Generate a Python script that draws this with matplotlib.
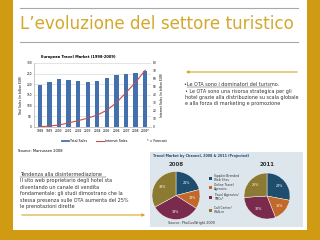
import matplotlib
matplotlib.use("Agg")
import matplotlib.pyplot as plt
from matplotlib.patches import Rectangle, FancyArrowPatch

# data
years = ["1998", "1999", "2000", "2001", "2002", "2003", "2004", "2005", "2006", "2007", "2008", "2009*"]
total_sales = [196, 209, 223, 218, 216, 210, 215, 230, 244, 249, 255, 263]
internet_sales = [0.3, 1.2, 2.5, 5, 8, 11, 15, 21, 30.5, 43, 56, 71]

channels = ["Supplier-Branded\nWeb Sites", "Online Travel\nAgencies", "Travel Agencies/\nTMCs*", "Call Center/\nWalk-in"]
share_2008 = [21, 13, 33, 33]
share_2011 = [28, 16, 30, 26]
channel_colors = ["#1E4D6E", "#C0692A", "#7A2B4D", "#8C7A32"]

right_lines = ["\u2022 Le OTA sono una risorsa strategica per gli",
               "hotel grazie alla distribuzione su scala globale",
               "e alla forza di marketing e promozione"]
left_lines = ["Il sito web proprietario degli hotel sta",
              "diventando un canale di vendita",
              "fondamentale: gli studi dimostrano che la",
              "stessa presenza sulle OTA aumenta del 25%",
              "le prenotazioni dirette"]

W, H = 320, 240
GOLD = "#D09A12"
TITLE = "#D4A82C"


def X(x):
    return x / W


def Y(y):
    return 1 - y / H


def box(x0, y0, w, h):
    return [x0 / W, 1 - (y0 + h) / H, w / W, h / H]


fig = plt.figure(figsize=(3.2, 2.4), dpi=100, facecolor=GOLD)

# white slide
fig.patches.append(Rectangle((X(13), Y(230)), X(294), 230 / H, transform=fig.transFigure,
                             facecolor="white", edgecolor="none", zorder=-3))

# title and rules
for yy in (8, 42):
    fig.add_artist(plt.Line2D([X(20), X(298)], [Y(yy), Y(yy)], color="#A8A8A8", lw=0.8))
fig.text(X(20), Y(24), "L\u2019evoluzione del settore turistico", color=TITLE,
         fontsize=12.1, va="center", ha="left")

# bar chart
ax = fig.add_axes(box(34, 63, 117, 64))
xs = range(len(years))
ax.bar(xs, total_sales, width=0.45, color="#4271AE", zorder=2)
ax.set_ylim(0, 300)
ax.set_yticks(range(0, 301, 50))
ax.set_xlim(-0.6, len(years) - 0.4)
ax.set_xticks(list(xs))
ax.set_xticklabels(years)
ax.grid(axis="y", color="#D0D0D0", lw=0.4, zorder=0)
ax.tick_params(labelsize=2.1, length=0, pad=1.5)
for s in ("top", "right"):
    ax.spines[s].set_visible(False)
for s in ("left", "bottom"):
    ax.spines[s].set_color("#A0A0A0")
    ax.spines[s].set_linewidth(0.4)
ax.set_ylabel("Total Sales (in billion EUR)", fontsize=2.2, labelpad=2)
ax2 = ax.twinx()
ax2.plot(list(xs), internet_sales, color="#C0504D", lw=0.8)
ax2.set_ylim(0, 80)
ax2.set_yticks(range(0, 81, 10))
ax2.tick_params(labelsize=2.1, length=0, pad=1.5)
for s in ("top", "left", "bottom", "right"):
    ax2.spines[s].set_visible(False)
ax2.set_ylabel("Internet Sales (in billion EUR)", fontsize=2.2, labelpad=2)
fig.text(X(78), Y(57), "European Travel Market (1998-2009)", fontsize=2.6, weight="bold",
         ha="center", va="center")
fig.add_artist(plt.Line2D([X(62), X(69)], [Y(141), Y(141)], color="#4271AE", lw=1.3))
fig.text(X(70), Y(141), "Total Sales", fontsize=2.3, va="center")
fig.add_artist(plt.Line2D([X(96), X(104)], [Y(141), Y(141)], color="#C0504D", lw=0.8))
fig.text(X(105), Y(141), "Internet Sales", fontsize=2.3, va="center")
fig.text(X(147), Y(141), "* = Forecast", fontsize=2.3, va="center")
fig.text(X(18), Y(151), "Source: Marcussen 2008", fontsize=2.6, va="center")

# right text block
fig.add_artist(FancyArrowPatch((X(300), Y(72)), (X(183), Y(72)), transform=fig.transFigure,
                               arrowstyle="-|>", mutation_scale=4, color=TITLE, lw=0.8))
fig.text(X(184), Y(84.5), "\u2022Le OTA sono i dominatori del turismo.", fontsize=3.5,
         va="center", color="#333333")
fig.add_artist(plt.Line2D([X(187), X(272)], [Y(87), Y(87)], color="#333333", lw=0.3))
for i, line in enumerate(right_lines):
    fig.text(X(185), Y(91.5 + 6 * i), line, fontsize=3.55, va="center", color="#333333")

# left text block
fig.text(X(20), Y(174), "Tendenza alla disintermediazione", fontsize=3.5, va="center", color="#333333")
fig.add_artist(plt.Line2D([X(20), X(106)], [Y(176.5), Y(176.5)], color="#333333", lw=0.3))
for i, line in enumerate(left_lines):
    fig.text(X(20), Y(180.5 + 6.6 * i), line, fontsize=3.5, va="center", color="#333333")
fig.add_artist(FancyArrowPatch((X(19), Y(215)), (X(148), Y(215)), transform=fig.transFigure,
                               arrowstyle="-|>", mutation_scale=4, color=TITLE, lw=0.8))

# pie panel
fig.patches.append(Rectangle((X(150), Y(227)), X(153), 75 / H, transform=fig.transFigure,
                             facecolor="#DCE6EC", edgecolor="none", zorder=-2))
fig.text(X(153), Y(155.5), "Travel Market by Channel, 2008 & 2011 (Projected)", fontsize=2.4,
         weight="bold", color="#2E4D70", va="center")
fig.text(X(176), Y(164.5), "2008", fontsize=4, weight="bold", ha="center", va="center", color="#333333")
fig.text(X(267), Y(164.5), "2011", fontsize=4, weight="bold", ha="center", va="center", color="#333333")

for share, cx, cy, r in ((share_2008, 176, 195.5, 24), (share_2011, 267, 196, 23)):
    pax = fig.add_axes(box(cx - r, cy - r, 2 * r, 2 * r))
    pax.set_facecolor("none")
    pax.pie(share, colors=channel_colors, startangle=90, counterclock=False,
            autopct="%d%%", pctdistance=0.68,
            textprops=dict(color="white", fontsize=2.4),
            wedgeprops=dict(edgecolor="white", linewidth=0.3))
    pax.set_xlim(-1, 1)
    pax.set_ylim(-1, 1)
    pax.set_aspect("equal")

for i, (name, col) in enumerate(zip(channels, channel_colors)):
    yy = [178, 187, 197, 210][i]
    fig.patches.append(Rectangle((X(208.5), Y(yy + 1.5)), X(3), 3 / H, transform=fig.transFigure,
                                 facecolor=col, edgecolor="none", zorder=3))
    fig.text(X(214), Y(yy), name, fontsize=2.2, va="center", color="#333333", linespacing=1.0)

fig.text(X(168), Y(223), "Source: PhoCusWright 2009", fontsize=2.4, va="center", color="#333333")

fig.savefig("out.png", dpi=100, facecolor=GOLD)
